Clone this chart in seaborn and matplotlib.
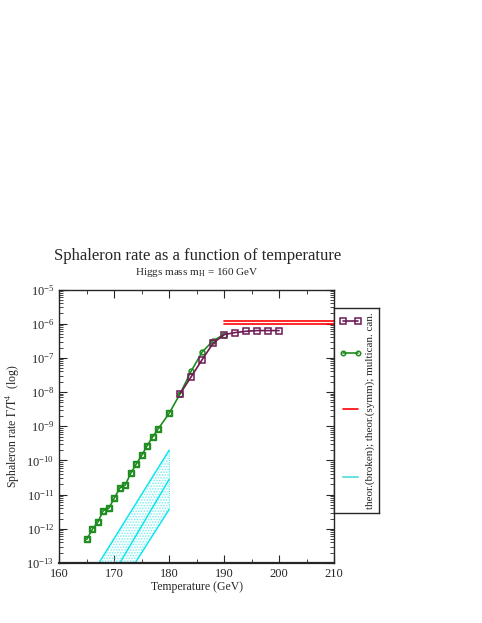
import numpy as np
import pandas as pd
import seaborn as sns
import matplotlib.pyplot as plt
from matplotlib.lines import Line2D
from matplotlib.ticker import MultipleLocator, LogLocator

# ---- data ----
T_multican = [182, 184, 186, 188, 190, 192, 194, 196, 198, 200]
rate_multican = [9.0e-9, 2.8e-8, 8.9e-8, 2.7e-7, 4.8e-7, 5.5e-7, 6.0e-7, 6.3e-7, 6.3e-7, 6.3e-7]

T_can = [165, 166, 167, 168, 169, 170, 171, 172, 173, 174, 175, 176, 177, 178,
         180, 182, 184, 186, 188, 190]
rate_can = [4.9e-13, 9.6e-13, 1.55e-12, 3.4e-12, 4.0e-12, 7.8e-12, 1.55e-11, 1.9e-11,
            4.2e-11, 7.8e-11, 1.4e-10, 2.7e-10, 4.9e-10, 8.4e-10,
            2.4e-9, 9.0e-9, 4.1e-8, 1.48e-7, 3.2e-7, 4.8e-7]

# low-T points also carry square symbols in the original
T_low_sq = [165, 166, 167, 168, 169, 170, 171, 172, 173, 174, 175, 176, 177, 178, 180]
rate_low_sq = [4.9e-13, 9.6e-13, 1.55e-12, 3.4e-12, 4.0e-12, 7.8e-12, 1.55e-11, 1.9e-11,
               4.2e-11, 7.8e-11, 1.4e-10, 2.7e-10, 4.9e-10, 8.4e-10, 2.4e-9]

# theory, symmetric phase (two horizontal lines)
T_symm = [190, 210]
symm_hi = [1.18e-6, 1.18e-6]
symm_lo = [1.0e-6, 1.0e-6]

# theory, broken phase (band with central value)
T_broken = [165, 180]
broken_hi = [2.7e-14, 2.0e-10]
broken_mid = [2.3e-15, 2.8e-11]
broken_lo = [5.9e-16, 3.7e-12]

purple = "#6e1a55"
green = "#1f8c1f"
red = "#ff0000"
cyan = "#00e5ee"

sns.set_style("ticks")
plt.rcParams['font.family'] = ['Liberation Serif', 'DejaVu Serif']
plt.rcParams['mathtext.fontset'] = 'stix'
plt.rcParams['hatch.linewidth'] = 0.8

fig = plt.figure(figsize=(4.82, 6.23), dpi=100)
ax = fig.add_axes([0.123, 0.0963, 0.570, 0.439])

df_m = pd.DataFrame({"T": T_multican, "rate": rate_multican})
df_c = pd.DataFrame({"T": T_can, "rate": rate_can})
df_sq = pd.DataFrame({"T": T_low_sq, "rate": rate_low_sq})

# broken-phase band
ax.fill_between(T_broken, broken_lo, broken_hi, facecolor="none", edgecolor="#7fecf2",
                hatch="......", linewidth=0)
ax.plot([T_broken[-1], T_broken[-1]], [broken_lo[-1], broken_hi[-1]],
        color=cyan, lw=0.6, ls=":")
for yv in (broken_hi, broken_mid, broken_lo):
    sns.lineplot(x=T_broken, y=yv, ax=ax, color=cyan, lw=1.0)

# symmetric-phase theory
for yv in (symm_hi, symm_lo):
    sns.lineplot(x=T_symm, y=yv, ax=ax, color=red, lw=1.2, clip_on=False)

sns.lineplot(data=df_c, x="T", y="rate", ax=ax, color=green, lw=1.2,
             marker="o", markersize=3.5, markerfacecolor="none",
             markeredgecolor=green, markeredgewidth=1.1)
sns.lineplot(data=df_sq, x="T", y="rate", ax=ax, color=green, lw=0,
             marker="s", markersize=4.2, markerfacecolor="none",
             markeredgecolor=green, markeredgewidth=1.0)
sns.lineplot(data=df_m, x="T", y="rate", ax=ax, color=purple, lw=1.2,
             marker="s", markersize=5, markerfacecolor="none",
             markeredgecolor=purple, markeredgewidth=1.1)

ax.set_yscale("log")
ax.set_xlim(160, 210)
ax.set_ylim(1e-13, 1e-5)
ax.xaxis.set_major_locator(MultipleLocator(10))
ax.xaxis.set_minor_locator(MultipleLocator(5))
ax.yaxis.set_major_locator(LogLocator(base=10, numticks=20))
ax.yaxis.set_minor_locator(LogLocator(base=10, subs=np.arange(2, 10), numticks=200))
ax.tick_params(which="both", direction="in", top=True, right=True, labelsize=9)
ax.tick_params(which="major", length=6, width=0.8)
ax.tick_params(which="minor", length=3, width=0.6)
for s in ax.spines.values():
    s.set_linewidth(1.0)
ax.spines["bottom"].set_linewidth(1.6)

ax.set_xlabel("Temperature (GeV)", fontsize=8.5, labelpad=1)
ax.set_ylabel(r"Sphaleron rate $\mathrm{\Gamma/T^4}$  (log)", fontsize=8.5, labelpad=3)

fig.text(0.409, 0.589, "Sphaleron rate as a function of temperature",
         ha="center", va="center", fontsize=12)
fig.text(0.409, 0.563, r"Higgs mass m$_\mathrm{H}$ = 160 GeV",
         ha="center", va="center", fontsize=8)

# legend box, drawn as a small axes with vertical text
lax = fig.add_axes([0.693, 0.1766, 0.0934, 0.329])
lax.set_xlim(0, 1)
lax.set_ylim(0, 1)
lax.set_xticks([])
lax.set_yticks([])
for s in lax.spines.values():
    s.set_linewidth(1.0)
lax.add_line(Line2D([0.2, 0.53], [0.937, 0.937], color=purple, lw=1.2, marker="s",
                    markersize=5, markerfacecolor="none", markeredgewidth=1.1))
lax.add_line(Line2D([0.2, 0.53], [0.78, 0.78], color=green, lw=1.2, marker="o",
                    markersize=3.2, markerfacecolor="none", markeredgewidth=1.1))
lax.add_line(Line2D([0.2, 0.53], [0.507, 0.507], color=red, lw=1.2))
lax.add_line(Line2D([0.2, 0.53], [0.176, 0.176], color="#6ee0e0", lw=1.5))
lax.text(0.8, 0.5, "theor.(broken); theor.(symm); multican. can.", rotation=90,
         ha="center", va="center", fontsize=8)

fig.savefig("out.png", dpi=100)
